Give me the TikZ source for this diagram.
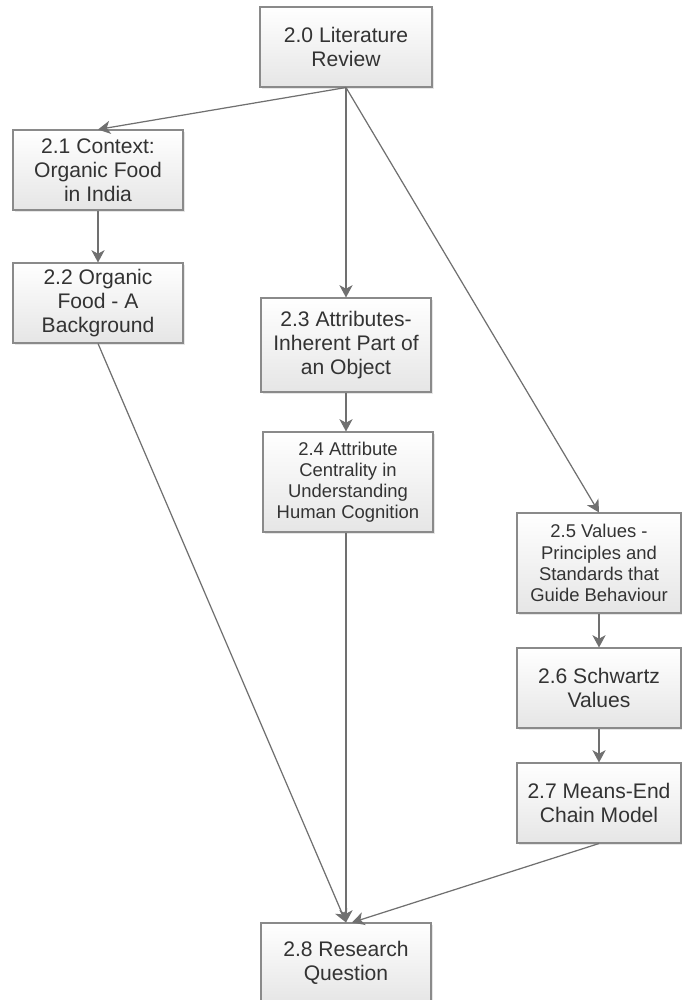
\documentclass[tikz,border=0pt]{standalone}
\usepackage{fontspec}
\setmainfont{Liberation Sans}
\usetikzlibrary{arrows.meta,shadows}

\definecolor{boxline}{HTML}{8A8A8A}
\definecolor{arrowgray}{HTML}{707070}
\definecolor{textgray}{HTML}{333333}

\tikzset{
  box/.style={draw=boxline, line width=0.6pt, top color=white, bottom color=black!10,
    drop shadow={shadow xshift=1.2pt, shadow yshift=-1.2pt, opacity=0.2},
    inner sep=0pt, align=center, text=textgray,
    font=\fontsize{12}{13.7}\selectfont},
  smallbox/.style={box, font=\fontsize{10.5}{12}\selectfont},
  flow/.style={draw=arrowgray, line width=0.7pt,
    -{Stealth[length=7pt, width=7.5pt, inset=2pt]}},
}

\begin{document}
\begin{tikzpicture}[x=0.02cm, y=-0.02cm]
            \useasboundingbox (0,0) rectangle (682,1000);

            \node[box, minimum width=3.44cm, minimum height=1.6cm] (lit) at (346,47) {2.0 Literature\\Review};

            \node[box, minimum width=3.4cm, minimum height=1.6cm] (ctx) at (98,170) {2.1 Context:\\Organic Food\\in India};
            \node[box, minimum width=3.4cm, minimum height=1.6cm] (bg) at (98,303) {2.2 Organic\\Food - A\\Background};

            \node[box, minimum width=3.4cm, minimum height=1.88cm] (attr) at (346,345) {2.3 Attributes-\\Inherent Part of\\an Object};
            \node[smallbox, minimum width=3.4cm, minimum height=2cm] (cent) at (348,482) {2.4 Attribute\\Centrality in\\Understanding\\Human Cognition};

            \node[smallbox, minimum width=3.28cm, minimum height=2cm] (val) at (599,563) {2.5 Values -\\Principles and\\Standards that\\Guide Behaviour};
            \node[box, minimum width=3.28cm, minimum height=1.6cm] (sch) at (599,688) {2.6 Schwartz\\Values};
            \node[box, minimum width=3.28cm, minimum height=1.6cm] (mec) at (599,803) {2.7 Means-End\\Chain Model};

            \node[box, minimum width=3.4cm, minimum height=1.6cm] (rq) at (346,963) {2.8 Research\\Question};
            \coordinate (rqin) at ([xshift=0.12cm]rq.north);

            \foreach \to in {ctx,attr,val} \draw[flow] (lit.south) -- (\to.north);
            \draw[flow] (ctx) -- (bg);
            \draw[flow] (attr) -- (attr.south |- cent.north);
            \draw[flow] (val) -- (sch);
            \draw[flow] (sch) -- (mec);

            \draw[flow] (bg.south) -- (rq.north);
            \draw[flow] (cent.south -| rq.north) -- (rq.north);
            \draw[flow] (mec.south) -- (rqin);

        \end{tikzpicture}
\end{document}
